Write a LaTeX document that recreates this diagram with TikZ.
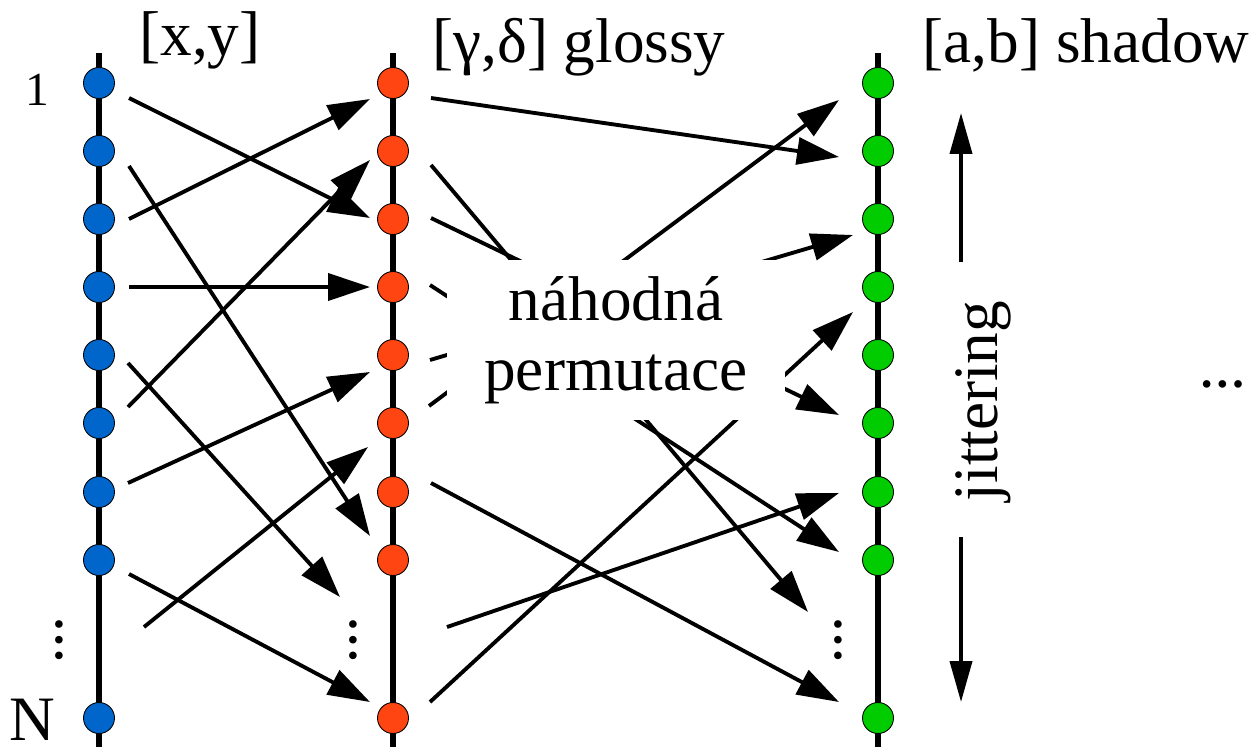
\documentclass[tikz,border=0pt]{standalone}
\usepackage{fontspec}
\setmainfont{Liberation Serif}
\usetikzlibrary{arrows.meta}

\definecolor{ptblue}{RGB}{0,102,204}
\definecolor{ptred}{RGB}{255,69,17}
\definecolor{ptgreen}{RGB}{0,204,0}

\tikzset{
  pointdot/.style={circle, draw=black, line width=0.5pt, minimum size=0.62cm, inner sep=0pt},
  colline/.style={line width=3.2pt},
  maparrow/.style={line width=2.2pt, -{Triangle[length=0.84cm,width=0.54cm]}},
  jitarrow/.style={line width=2.2pt, -{Triangle[length=0.82cm,width=0.44cm]}},
  bigtext/.style={font=\fontsize{36}{39.8}\selectfont},
  dotstext/.style={font=\fontsize{26.5}{26.5}\selectfont\bfseries, inner sep=0pt},
}

\begin{document}
\begin{tikzpicture}[x=0.02cm, y=-0.02cm]
  \useasboundingbox (0,0) rectangle (1256,747);

  % the three columns
  \draw[colline] (99,53) -- (99,747);
  \draw[colline] (393,53) -- (393,747);
  \draw[colline] (878,53) -- (878,747);

  \foreach \i/\yy in {1/83,2/151,3/219,4/287,5/355,6/423,7/492,8/560,N/718} {
    \node[pointdot, fill=ptblue] (L\i) at (99,\yy) {};
    \node[pointdot, fill=ptred] (M\i) at (393,\yy) {};
    \node[pointdot, fill=ptgreen] (R\i) at (878,\yy) {};
  }
  \node[dotstext, rotate=90] (Lv) at (59,640) {…};
  \node[dotstext, rotate=90] (Mv) at (353,640) {…};
  \node[dotstext, rotate=90] (Rv) at (838,640) {…};

  % first permutation
  \draw[maparrow] ([shift={(30,15)}]L1.center) -- ([shift={(-23,-1)}]M3.center);
  \draw[maparrow] ([shift={(30,15)}]L2.center) -- ([shift={(-23,-24)}]M8.center);
  \draw[maparrow] ([shift={(30,0)}]L3.center) -- ([shift={(-23,16)}]M1.center);
  \draw[maparrow] ([shift={(30,0)}]L4.center) -- ([shift={(-23,0)}]M4.center);
  \draw[maparrow] ([shift={(29,8)}]L5.center) -- ([shift={(-13,-43)}]Mv.center);
  \draw[maparrow] ([shift={(29,-16)}]L6.center) -- ([shift={(-23,9)}]M2.center);
  \draw[maparrow] ([shift={(29,-9)}]L7.center) -- ([shift={(-23,17)}]M5.center);
  \draw[maparrow] ([shift={(30,14)}]L8.center) -- ([shift={(-23,-16)}]MN.center);
  \draw[maparrow] ([shift={(85,-13)}]Lv.center) -- ([shift={(-25,24)}]M6.center);

  % second permutation
  \draw[maparrow] ([shift={(38,15)}]M1.center) -- ([shift={(-39,6)}]R2.center);
  \draw[maparrow] ([shift={(38,14)}]M2.center) -- ([shift={(-30,-28)}]Rv.center);
  \draw[maparrow] ([shift={(38,-1)}]M3.center) -- ([shift={(-39,-8)}]R6.center);
  \draw[maparrow] ([shift={(37,-2)}]M4.center) -- ([shift={(-39,-8)}]R8.center);
  \draw[maparrow] ([shift={(37,5)}]M5.center) -- ([shift={(-25,16)}]R3.center);
  \draw[maparrow] ([shift={(36,-17)}]M6.center) -- ([shift={(-39,17)}]R1.center);
  \draw[maparrow] ([shift={(38,-9)}]M7.center) -- ([shift={(-39,-16)}]RN.center);
  \draw[maparrow] ([shift={(94,-13)}]Mv.center) -- ([shift={(-39,1)}]R7.center);
  \draw[maparrow] ([shift={(37,-16)}]MN.center) -- ([shift={(-25,25)}]R4.center);

  \node[bigtext, fill=white, align=center, minimum width=6.76cm, minimum height=3.2cm]
    (perm) at (616,340) {náhodná\\permutace};

  % labels
  \node[bigtext, anchor=base] (hxy) at (200,55) {[x,y]};
  \node[bigtext, anchor=base] (hgd) at (579,62) {[γ,δ] glossy};
  \node[bigtext, anchor=base] (hab) at (1086,62) {[a,b] shadow};
  \node[font=\fontsize{27}{27}\selectfont, inner sep=0pt] (one) at (37.5,90) {1};
  \node[bigtext, inner sep=0pt] (last) at (32,720) {N};
  \node[dotstext] (more) at (1223,384) {…};

  \node[bigtext, rotate=90] (jit) at (983,401) {jittering};
  \coordinate (j1) at (961,262);
  \coordinate (j2) at (961,113);
  \coordinate (j3) at (961,537);
  \coordinate (j4) at (961,702);
  \draw[jitarrow] (j1) -- (j2);
  \draw[jitarrow] (j3) -- (j4);
\end{tikzpicture}
\end{document}
